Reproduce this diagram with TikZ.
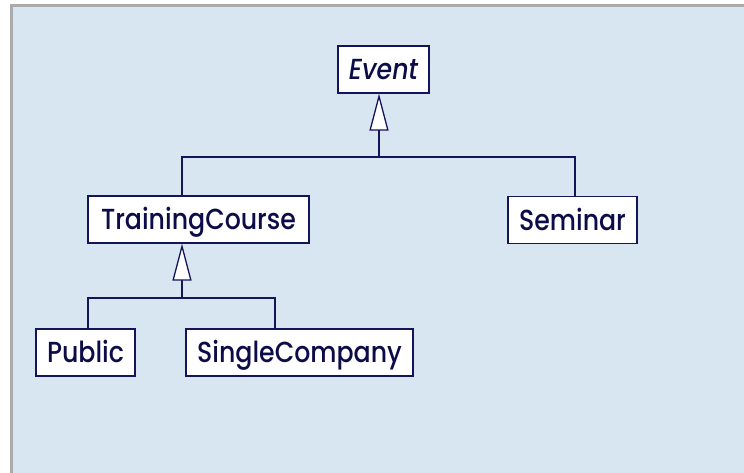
\documentclass[tikz,border=0pt]{standalone}
\usepackage{fontspec}
\setmainfont{Poppins}[UprightFont=* Medium, ItalicFont=* Medium Italic, FakeStretch=0.87]
\usetikzlibrary{arrows.meta}
\definecolor{panel}{HTML}{D8E6F1}
\definecolor{rim}{HTML}{ABABAB}
\definecolor{ink}{HTML}{14145A}
\definecolor{txt}{HTML}{0C0C48}
\tikzset{
  cls/.style={draw=ink, line width=1.3pt, fill=white, minimum height=47pt,
    inner sep=0pt, text height=20pt, text depth=0pt,
    font=\fontsize{29}{29}\selectfont, text=txt},
  link/.style={draw=ink, line width=1.3pt},
  gen/.style={link, -{Triangle[length=37pt,width=19pt,fill=white,line width=1.3pt]}}
}
\begin{document}
\begin{tikzpicture}[x=1pt,y=-1pt]
  \useasboundingbox (0,0) rectangle (744,473);
  \fill[white] (0,0) rectangle (744,473);
  % frame and panel
  \fill[rim] (10,4) rectangle (744,473);
  \fill[panel] (13,7) rectangle (744,473);

  % classes
  \node[cls, minimum width=91pt]  (ev) at (383.5,69.5) {\itshape Event};
  \node[cls, minimum width=221pt] (tc) at (198.5,219.5) {TrainingCourse};
  \node[cls, minimum width=129pt] (sm) at (572.5,220) {Seminar};
  \node[cls, minimum width=99pt]  (pu) at (85.5,352.5) {Public};
  \node[cls, minimum width=227pt] (sc) at (299.5,352.5) {SingleCompany};

  % junction points of the generalisation trees
  \coordinate (evj) at (379,157);
  \coordinate (tcj) at (182,157);
  \coordinate (smj) at (575,157);
  \coordinate (tcb) at (182,298);
  \coordinate (puj) at (88,298);
  \coordinate (scj) at (275,298);

  % Event <- TrainingCourse, Seminar
  \draw[gen] (evj) -- (evj |- ev.south);
  \draw[link] (tcj |- tc.north) -- (tcj) -- (smj) -- (smj |- sm.north);

  % TrainingCourse <- Public, SingleCompany
  \draw[gen] (tcb) -- (tcb |- tc.south);
  \draw[link] (puj |- pu.north) -- (puj) -- (scj) -- (scj |- sc.north);
\end{tikzpicture}
\end{document}
